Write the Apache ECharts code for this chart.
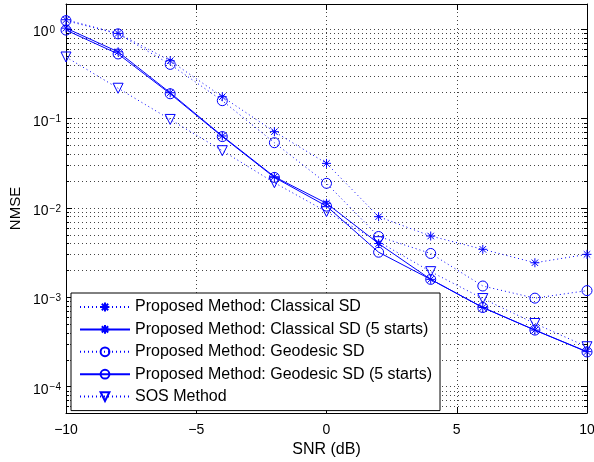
<!DOCTYPE html>
<html>
<head>
<meta charset="utf-8">
<script src="https://cdn.jsdelivr.net/npm/echarts@6/dist/echarts.min.js"></script>
<style>
  html, body { margin: 0; padding: 0; background: #fff; }
  #chart { width: 594px; height: 462px; }
</style>
</head>
<body>
<div id="chart"></div>
<script>
// SNR points (dB)
var snr = [-10, -8, -6, -4, -2, 0, 2, 4, 6, 8, 10];

// NMSE per method
var classicalSD  = [1.28, 0.90, 0.445, 0.176, 0.0715, 0.0316, 0.0080, 0.00486, 0.00345, 0.00244, 0.00303];
var classical5   = [1.03, 0.56, 0.195, 0.064, 0.0224, 0.0113, 0.0040, 0.00159, 0.00077, 0.00043, 0.000247];
var geodesicSD   = [1.25, 0.89, 0.405, 0.159, 0.0538, 0.0189, 0.0048, 0.0031, 0.00134, 0.00098, 0.00119];
var geodesic5    = [0.98, 0.53, 0.19, 0.063, 0.022, 0.0105, 0.0032, 0.00159, 0.00077, 0.00043, 0.000245];
var sosMethod    = [0.49, 0.219, 0.098, 0.0438, 0.0192, 0.0091, 0.0042, 0.00194, 0.00097, 0.00051, 0.00028];

var names = [
	'Proposed Method: Classical SD',
	'Proposed Method: Classical SD (5 starts)',
	'Proposed Method: Geodesic SD',
	'Proposed Method: Geodesic SD (5 starts)',
	'SOS Method'
];

var xTicks = [-10, -5, 0, 5, 10];

var BLUE = '#0000ff';
var FONT = 'Liberation Sans, Arial, Helvetica, sans-serif';
var STAR = 'path://M0,-5L0,5M-5,0L5,0M-3.6,-3.6L3.6,3.6M-3.6,3.6L3.6,-3.6';
var TRI_DOWN = 'path://M-5,-4.3L5,-4.3L0,4.3Z';
var GRID_DOTS = { color: '#444', width: 1, type: [1, 3] };

function pairs(ys) {
	var out = [];
	for (var i = 0; i < snr.length; i++) {
		out.push([snr[i], ys[i]]);
	}
	return out;
}

function makeSeries(name, ys, symbol, size, dotted) {
	return {
		name: name,
		type: 'line',
		data: pairs(ys),
		clip: false,
		symbol: symbol,
		symbolSize: size,
		showAllSymbol: true,
		lineStyle: { color: BLUE, width: 1, type: dotted ? [1, 3] : 'solid' },
		itemStyle: { color: 'transparent', borderColor: BLUE, borderWidth: 1 },
		emphasis: { disabled: true },
		animation: false
	};
}

function minusSign(v) {
	return v < 0 ? '\u2212' + (-v) : String(v);
}

var chart = echarts.init(document.getElementById('chart'));

var option = {
	backgroundColor: '#fff',
	animation: false,
	textStyle: { fontFamily: FONT },
	grid: { left: 66, right: 7, top: 4, bottom: 49, containLabel: false, outerBoundsMode: 'none' },
	legend: {
		data: names,
		orient: 'vertical',
		left: 71,
		top: 293,
		padding: [6, 8, 6, 8],
		itemWidth: 50,
		itemHeight: 11,
		itemGap: 6.4,
		backgroundColor: '#fff',
		borderColor: '#000',
		borderWidth: 1,
		borderRadius: 0,
		selectedMode: false,
		textStyle: { color: '#000', fontSize: 16, lineHeight: 16, fontFamily: FONT }
	},
	xAxis: [{
		type: 'value',
		min: -10,
		max: 10,
		interval: 5,
		name: 'SNR (dB)',
		nameLocation: 'middle',
		nameGap: 28,
		nameTextStyle: { color: '#000', fontSize: 16, fontFamily: FONT },
		axisLine: { onZero: false, lineStyle: { color: '#000', width: 1 } },
		axisTick: { inside: true, length: 6, lineStyle: { color: '#000' } },
		axisLabel: {
			color: '#000', fontSize: 14, margin: 10,
			formatter: function (v) { return xTicks.indexOf(v) >= 0 ? minusSign(v) : ''; }
		},
		splitLine: { show: true, lineStyle: GRID_DOTS }
	}, {
		type: 'value',
		position: 'top',
		min: -10,
		max: 10,
		interval: 5,
		axisLine: { onZero: false, lineStyle: { color: '#000', width: 1 } },
		axisTick: { inside: true, length: 6, lineStyle: { color: '#000' } },
		axisLabel: { show: false },
		splitLine: { show: false }
	}],
	yAxis: [{
		type: 'log',
		logBase: 10,
		min: 5.08e-5,
		max: 1.92,
		name: 'NMSE',
		nameLocation: 'middle',
		nameGap: 43,
		nameMoveOverlap: false,
		nameTextStyle: { color: '#000', fontSize: 15, fontFamily: FONT },
		axisLine: { onZero: false, lineStyle: { color: '#000', width: 1 } },
		axisTick: { inside: true, length: 6, lineStyle: { color: '#000' } },
		minorTick: { show: true, splitNumber: 9, length: 3, lineStyle: { color: '#000' } },
		axisLabel: {
			color: '#000', margin: 33, align: 'left', padding: [6, 0, 0, 0],
			showMinLabel: false, showMaxLabel: false,
			formatter: function (v) {
				var lg = Math.log10(v);
				var e = Math.round(lg);
				if (Math.abs(lg - e) > 1e-6) return '';
				return '{b|10}{s|' + minusSign(e) + '}';
			},
			rich: {
				b: { fontSize: 14, color: '#000', fontFamily: FONT, verticalAlign: 'bottom', lineHeight: 14, padding: [6, 0, 0, 0] },
				s: { fontSize: 10, color: '#000', fontFamily: FONT, verticalAlign: 'top', lineHeight: 12, padding: [0, 0, 8, 1] }
			}
		},
		splitLine: { show: true, lineStyle: GRID_DOTS },
		minorSplitLine: { show: true, lineStyle: GRID_DOTS }
	}, {
		type: 'log',
		logBase: 10,
		position: 'right',
		min: 5.08e-5,
		max: 1.92,
		axisLine: { show: true, onZero: false, lineStyle: { color: '#000', width: 1 } },
		axisTick: { inside: true, length: 6, lineStyle: { color: '#000' } },
		minorTick: { show: true, splitNumber: 9, length: 3, lineStyle: { color: '#000' } },
		axisLabel: { show: false },
		splitLine: { show: false }
	}],
	series: [
		makeSeries(names[0], classicalSD, STAR, 9, true),
		makeSeries(names[1], classical5, STAR, 9, false),
		makeSeries(names[2], geodesicSD, 'circle', 10, true),
		makeSeries(names[3], geodesic5, 'circle', 10, false),
		makeSeries(names[4], sosMethod, TRI_DOWN, 10, true)
	]
};

chart.setOption(option);
</script>
</body>
</html>
